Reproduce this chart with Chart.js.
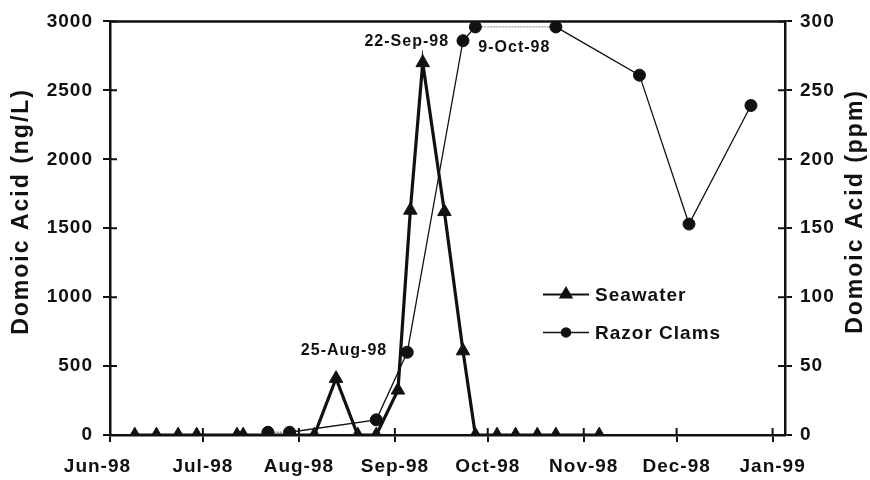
<!DOCTYPE html>
<html>
<head>
<meta charset="utf-8">
<script src="https://cdn.jsdelivr.net/npm/chart.js@4.4.1/dist/chart.umd.min.js"></script>
<style>
  html, body { margin: 0; padding: 0; background: #fff; }
  #wrap { width: 870px; height: 480px; }
</style>
</head>
<body>
<div id="wrap"><canvas id="daChart" width="870" height="480"></canvas></div>
<script>
// seawater samples (ng/L)
const seawaterDates = ['1998-06-21', '1998-06-28', '1998-07-05', '1998-07-11', '1998-07-24', '1998-07-26',
  '1998-08-03', '1998-08-10', '1998-08-18', '1998-08-25', '1998-09-01', '1998-09-07', '1998-09-14',
  '1998-09-18', '1998-09-22', '1998-09-29', '1998-10-05', '1998-10-09', '1998-10-16', '1998-10-22',
  '1998-10-29', '1998-11-04', '1998-11-18'];
const seawaterNgL = [0, 0, 0, 0, 0, 0, 0, 0, 0, 410, 0, 0, 325, 1630, 2700, 1620, 610, 0, 0, 0, 0, 0, 0];

// razor clam samples (ppm)
const clamDates = ['1998-08-03', '1998-08-10', '1998-09-07', '1998-09-17', '1998-10-05', '1998-10-09',
  '1998-11-04', '1998-12-01', '1998-12-17', '1999-01-06'];
const clamPpm = [2, 2, 11, 60, 286, 296, 296, 261, 153, 239];

// axes
const axisStart = '1998-06-13';
const axisEnd = '1999-01-17';
const monthTickDates = ['1998-06-13', '1998-07-13', '1998-08-13', '1998-09-13', '1998-10-13',
  '1998-11-13', '1998-12-13', '1999-01-13'];
const monthTickLabels = ['Jun-98', 'Jul-98', 'Aug-98', 'Sep-98', 'Oct-98', 'Nov-98', 'Dec-98', 'Jan-99'];
const leftTicks = [0, 500, 1000, 1500, 2000, 2500, 3000];
const rightTicks = [0, 50, 100, 150, 200, 250, 300];
const leftTitle = 'Domoic Acid (ng/L)';
const rightTitle = 'Domoic Acid (ppm)';

// dated call-outs: series index, sample date, text
const noteSeries = [0, 0, 1];
const noteDates = ['1998-08-25', '1998-09-22', '1998-10-09'];
const noteTexts = ['25-Aug-98', '22-Sep-98', '9-Oct-98'];

const ink = '#111';
const fontFamily = '"Liberation Sans", Arial, sans-serif';
const day = s => Date.parse(s) / 86400000;

Chart.defaults.font.family = fontFamily;
Chart.defaults.font.weight = 'bold';
Chart.defaults.color = ink;

// slightly wider type
const spacing = {
  id: 'spacing',
  beforeUpdate(chart) { chart.ctx.letterSpacing = '1px'; },
  beforeDraw(chart) { chart.ctx.letterSpacing = '1px'; }
};

// top frame line and tick marks that cross into the plot
const frame = {
  id: 'frame',
  beforeDatasetsDraw(chart) {
    const { ctx, chartArea: a, scales } = chart;
    ctx.save();
    ctx.strokeStyle = ink;
    ctx.lineWidth = 2.5;
    ctx.beginPath();
    ctx.moveTo(a.left - 1, a.top);
    ctx.lineTo(a.right + 1, a.top);
    ctx.stroke();
    ctx.lineWidth = 2;
    ctx.beginPath();
    scales.x.ticks.forEach(t => {
      const px = scales.x.getPixelForValue(t.value);
      ctx.moveTo(px, a.bottom);
      ctx.lineTo(px, a.bottom - 7);
    });
    scales.y.ticks.forEach(t => {
      const py = scales.y.getPixelForValue(t.value);
      ctx.moveTo(a.left, py);
      ctx.lineTo(a.left + 7, py);
    });
    scales.y1.ticks.forEach(t => {
      const py = scales.y1.getPixelForValue(t.value);
      ctx.moveTo(a.right, py);
      ctx.lineTo(a.right - 7, py);
    });
    ctx.stroke();
    ctx.restore();
  }
};

// both axis titles read bottom-to-top
const axisTitles = {
  id: 'axisTitles',
  afterDraw(chart) {
    const { ctx, chartArea: a } = chart;
    const cy = a.top + 190;
    ctx.save();
    ctx.font = 'bold 23px ' + fontFamily;
    ctx.fillStyle = ink;
    ctx.letterSpacing = '2px';
    ctx.textAlign = 'center';
    ctx.textBaseline = 'middle';
    [[22, leftTitle], [chart.width - 14, rightTitle]].forEach(([x, text]) => {
      ctx.save();
      ctx.translate(x, cy);
      ctx.rotate(-Math.PI / 2);
      ctx.fillText(text, 0, 0);
      ctx.restore();
    });
    ctx.restore();
  }
};

const noteOffsets = [
  { dx: 8, dy: -28, align: 'center' },
  { dx: -16, dy: -21, align: 'center' },
  { dx: 3, dy: 21, align: 'left' }
];

const notes = {
  id: 'notes',
  afterDatasetsDraw(chart) {
    const { ctx } = chart;
    ctx.save();
    ctx.font = 'bold 16px ' + fontFamily;
    ctx.fillStyle = ink;
    ctx.textBaseline = 'middle';
    noteTexts.forEach((text, i) => {
      const ds = chart.data.datasets[noteSeries[i]];
      const idx = ds.data.findIndex(p => p.x === day(noteDates[i]));
      const pt = chart.getDatasetMeta(noteSeries[i]).data[idx];
      const o = noteOffsets[i];
      ctx.textAlign = o.align;
      ctx.fillText(text, pt.x + o.dx, pt.y + o.dy);
    });
    ctx.restore();
  }
};

const legendBox = {
  id: 'legendBox',
  afterDraw(chart) {
    const { ctx, chartArea: a } = chart;
    const x0 = a.left + 433;
    ctx.save();
    ctx.font = 'bold 19px ' + fontFamily;
    ctx.textBaseline = 'middle';
    ctx.textAlign = 'left';
    chart.data.datasets.forEach((ds, i) => {
      const y = a.top + 273 + i * 38;
      ctx.strokeStyle = ink;
      ctx.fillStyle = ink;
      ctx.lineWidth = i === 0 ? 2 : 1.5;
      ctx.beginPath();
      ctx.moveTo(x0, y);
      ctx.lineTo(x0 + 46, y);
      ctx.stroke();
      Chart.helpers.drawPoint(ctx, {
        pointStyle: ds.pointStyle, radius: ds.pointRadius - 1.5, rotation: 0, borderWidth: 1
      }, x0 + 23, y);
      ctx.fillText(ds.label, x0 + 52, y + 1);
    });
    ctx.restore();
  }
};

new Chart(document.getElementById('daChart'), {
  type: 'line',
  data: {
    datasets: [
      {
        label: 'Seawater',
        data: seawaterDates.map((d, i) => ({ x: day(d), y: seawaterNgL[i] })),
        yAxisID: 'y',
        borderColor: ink,
        backgroundColor: ink,
        borderWidth: 3.2,
        pointStyle: 'triangle',
        pointRadius: 7.8,
        pointBorderWidth: 1,
        tension: 0
      },
      {
        label: 'Razor Clams',
        data: clamDates.map((d, i) => ({ x: day(d), y: clamPpm[i] })),
        yAxisID: 'y1',
        borderColor: ink,
        backgroundColor: ink,
        borderWidth: 1.3,
        pointStyle: 'circle',
        pointRadius: 6,
        pointBorderWidth: 1,
        tension: 0,
        segment: {
          borderColor: c => c.p0.parsed.y === c.p1.parsed.y ? '#9a9a9a' : undefined,
          borderDash: c => c.p0.parsed.y === c.p1.parsed.y ? [2, 1] : undefined
        }
      }
    ]
  },
  options: {
    responsive: false,
    animation: false,
    layout: { padding: { top: 20, left: 0, right: 0, bottom: 0 } },
    plugins: {
      legend: { display: false },
      tooltip: { enabled: false }
    },
    scales: {
      x: {
        type: 'linear',
        min: day(axisStart),
        max: day(axisEnd),
        afterBuildTicks: axis => { axis.ticks = monthTickDates.map(d => ({ value: day(d) })); },
        afterFit: scale => { scale.height = 45; },
        ticks: {
          autoSkip: false,
          maxRotation: 0,
          padding: 13,
          font: { size: 19, weight: 'bold' },
          callback: v => {
            const i = monthTickDates.findIndex(d => day(d) === v);
            // first label sits a little left of its tick
            return i === 0 ? monthTickLabels[i] + '    ' : monthTickLabels[i];
          }
        },
        grid: { drawOnChartArea: false, tickLength: 7, color: ink, lineWidth: 2 },
        border: { display: true, color: ink, width: 2.5 }
      },
      y: {
        position: 'left',
        min: 0,
        max: 3000,
        afterBuildTicks: axis => { axis.ticks = leftTicks.map(v => ({ value: v })); },
        afterFit: scale => { scale.width = 110; },
        ticks: { padding: 10, font: { size: 19, weight: 'bold' }, callback: v => String(v) },
        grid: { drawOnChartArea: false, tickLength: 7, color: ink, lineWidth: 2 },
        border: { display: true, color: ink, width: 2.5 }
      },
      y1: {
        position: 'right',
        min: 0,
        max: 300,
        afterBuildTicks: axis => { axis.ticks = rightTicks.map(v => ({ value: v })); },
        afterFit: scale => { scale.width = 85; },
        ticks: { padding: 8, font: { size: 19, weight: 'bold' }, callback: v => String(v) },
        grid: { drawOnChartArea: false, tickLength: 7, color: ink, lineWidth: 2 },
        border: { display: true, color: ink, width: 2.5 }
      }
    }
  },
  plugins: [spacing, frame, notes, legendBox, axisTitles]
});
</script>
</body>
</html>
